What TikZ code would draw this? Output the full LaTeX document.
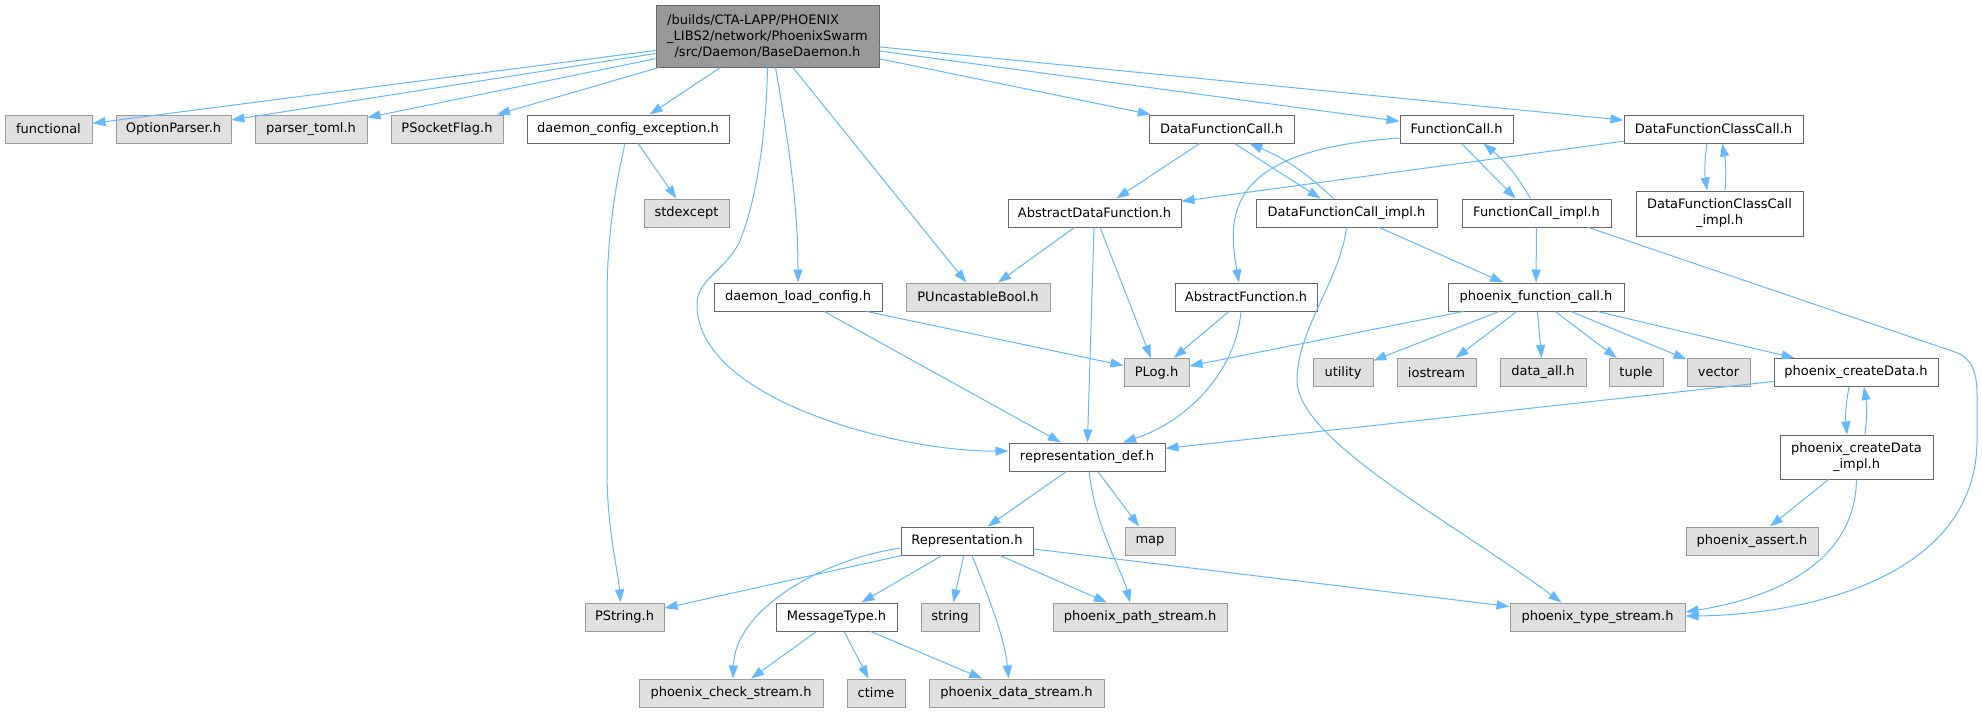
\documentclass[tikz,border=0pt]{standalone}
\usepackage{fontspec}
\setmainfont{DejaVu Sans}
\usepackage{calc}
\usetikzlibrary{arrows.meta}
\definecolor{edgeblue}{HTML}{63B8FF}
\definecolor{extfill}{HTML}{E0E0E0}
\definecolor{extline}{HTML}{999999}
\definecolor{docline}{HTML}{666666}
\definecolor{rootfill}{HTML}{999999}

\begin{document}
\begin{tikzpicture}[x=1pt, y=-1pt, font=\fontsize{13}{16}\selectfont,
    box/.style={draw=docline, fill=white, line width=1pt, inner sep=0pt, minimum height=28pt, align=center},
    ext/.style={box, draw=extline, fill=extfill},
    root/.style={box, fill=rootfill},
    dep/.style={draw=edgeblue, line width=1pt, -{Triangle[length=13pt,width=9pt]}}]
\useasboundingbox (0,0) rectangle (1982,712);
% root file
\node[root, minimum width=223pt, minimum height=62pt] (root) at (767.5,36) {\makebox[\widthof{\_LIBS2/network/PhoenixSwarm}][l]{/builds/CTA-LAPP/PHOENIX}\\\_LIBS2/network/PhoenixSwarm\\/src/Daemon/BaseDaemon.h};
% first row
\node[ext, minimum width=87pt] (functional) at (48.5,129) {functional};
\node[ext, minimum width=115pt] (optparser) at (173.5,129) {OptionParser.h};
\node[ext, minimum width=112pt] (parsertoml) at (311,129) {parser\_toml.h};
\node[ext, minimum width=112pt] (psocketflag) at (447,129) {PSocketFlag.h};
\node[box, minimum width=202pt] (cfgexcept) at (628,129) {daemon\_config\_exception.h};
\node[box, minimum width=145pt] (dfcall) at (1221.5,129) {DataFunctionCall.h};
\node[box, minimum width=113pt] (fcall) at (1456.5,129) {FunctionCall.h};
\node[box, minimum width=179pt] (dfclasscall) at (1713.5,129) {DataFunctionClassCall.h};
% second row
\node[ext, minimum width=85pt] (stdexcept) at (686.5,213) {stdexcept};
\node[box, minimum width=173pt] (absdatafn) at (1094.5,213) {AbstractDataFunction.h};
\node[box, minimum width=181pt] (dfcallimpl) at (1346.5,213) {DataFunctionCall\_impl.h};
\node[box, minimum width=149pt] (fcallimpl) at (1536.5,213) {FunctionCall\_impl.h};
\node[box, minimum width=167pt, minimum height=45pt] (dfclassimpl) at (1719.5,213.5) {DataFunctionClassCall\\\_impl.h};
% third row
\node[box, minimum width=168pt] (loadcfg) at (798,297) {daemon\_load\_config.h};
\node[ext, minimum width=144pt] (puncast) at (978,297) {PUncastableBool.h};
\node[box, minimum width=142pt] (absfn) at (1246,297) {AbstractFunction.h};
\node[box, minimum width=176pt] (pfncall) at (1536,297) {phoenix\_function\_call.h};
% fourth row
\node[ext, minimum width=65pt] (plog) at (1156.5,372.5) {PLog.h};
\node[ext, minimum width=60pt] (utility) at (1343,372.5) {utility};
\node[ext, minimum width=79pt] (iostream) at (1436.5,372.5) {iostream};
\node[ext, minimum width=86pt] (dataall) at (1543,372.5) {data\_all.h};
\node[ext, minimum width=54pt] (tuple) at (1636,372.5) {tuple};
\node[ext, minimum width=63pt] (vector) at (1718.5,372.5) {vector};
\node[box, minimum width=164pt] (createdata) at (1856,372.5) {phoenix\_createData.h};
% representation part
\node[box, minimum width=153pt, minimum height=44pt] (createimpl) at (1856.5,457) {phoenix\_createData\\\_impl.h};
\node[box, minimum width=156pt] (repdef) at (1087,457) {representation\_def.h};
\node[box, minimum width=132pt] (repr) at (967,541) {Representation.h};
\node[ext, minimum width=50pt] (map) at (1150,541) {map};
\node[ext, minimum width=132pt] (passert) at (1752,541) {phoenix\_assert.h};
\node[ext, minimum width=79pt] (pstring) at (624.5,617) {PString.h};
\node[box, minimum width=121pt] (msgtype) at (836.5,617) {MessageType.h};
\node[ext, minimum width=58pt] (string) at (950,617) {string};
\node[ext, minimum width=174pt] (pathstream) at (1140,617) {phoenix\_path\_stream.h};
\node[ext, minimum width=175pt] (typestream) at (1597.5,617) {phoenix\_type\_stream.h};
% bottom row
\node[ext, minimum width=184pt] (checkstream) at (731,693) {phoenix\_check\_stream.h};
\node[ext, minimum width=58pt] (ctime) at (876,693) {ctime};
\node[ext, minimum width=175pt] (datastream) at (1016.5,693) {phoenix\_data\_stream.h};

% edges from the root
\draw[dep] (root) -- (functional);
\draw[dep] (root) -- (optparser);
\draw[dep] (root) -- (parsertoml);
\draw[dep] (root) -- (psocketflag);
\draw[dep] (root) -- (cfgexcept);
\draw[dep] (root.south) .. controls (766,150) and (752,215) .. (738,245) .. controls (720,275) and (697,280) .. (697,305) .. controls (697,400) and (900,452) .. ([yshift=6pt]repdef.west);
\draw[dep] ([xshift=8pt]root.south) .. controls (790,150) and (798,210) .. (loadcfg.north);
\draw[dep] (root) -- (puncast);
\draw[dep] (root) -- (dfcall);
\draw[dep] (root) -- (fcall);
\draw[dep] (root) -- (dfclasscall);
% daemon_config_exception.h
\draw[dep] (cfgexcept) -- (stdexcept);
\draw[dep] ([xshift=-3pt]cfgexcept.south) .. controls (612,200) and (607,250) .. (607,300) -- (607,470) .. controls (607,530) and (618,570) .. ([xshift=-4pt]pstring.north);
% call headers
\draw[dep] (dfcall) -- (absdatafn);
\draw[dep] ([xshift=13pt]dfcall.south) -- ([xshift=-26pt]dfcallimpl.north);
\draw[dep] ([xshift=-13pt]dfcallimpl.north) to[bend right=10] ([xshift=28pt]dfcall.south);
\draw[dep] ([yshift=-9pt]fcall.west) .. controls (1230,150) and (1226,210) .. ([xshift=-7pt]absfn.north);
\draw[dep] ([xshift=5pt]fcall.south) -- ([xshift=-21pt]fcallimpl.north);
\draw[dep] ([xshift=-6pt]fcallimpl.north) to[bend right=10] ([xshift=27pt]fcall.south);
\draw[dep] (dfclasscall) -- (absdatafn);
\draw[dep] ([xshift=-6.5pt]dfclasscall.south) to[bend right=8] ([xshift=-12.5pt]dfclassimpl.north);
\draw[dep] ([xshift=5.5pt]dfclassimpl.north) to[bend right=8] ([xshift=8.5pt]dfclasscall.south);
% second row
\draw[dep] (absdatafn) -- (puncast);
\draw[dep] (absdatafn) -- (plog);
\draw[dep] (absdatafn) -- (repdef);
\draw[dep] (dfcallimpl) -- (pfncall);
\draw[dep] (dfcallimpl.south) .. controls (1340,280) and (1297,330) .. (1297,380) .. controls (1297,440) and (1450,520) .. ([xshift=-36pt]typestream.north);
\draw[dep] (fcallimpl) -- (pfncall);
\draw[dep] ([xshift=52pt]fcallimpl.south) -- (1955,352) .. controls (1972,358) and (1977,372) .. (1977,395) -- (1977,440) .. controls (1977,580) and (1800,615) .. ([yshift=1pt]typestream.east);
% third row
\draw[dep] (loadcfg) -- (plog);
\draw[dep] (loadcfg) -- (repdef);
\draw[dep] (absfn) -- (plog);
\draw[dep] ([xshift=-5pt]absfn.south) .. controls (1236,370) and (1190,420) .. ([xshift=36pt]repdef.north);
\draw[dep] (pfncall) -- (plog);
\draw[dep] (pfncall) -- (utility);
\draw[dep] (pfncall) -- (iostream);
\draw[dep] (pfncall) -- (dataall);
\draw[dep] (pfncall) -- (tuple);
\draw[dep] (pfncall) -- (vector);
\draw[dep] (pfncall) -- (createdata);
% phoenix_createData.h
\draw[dep] (createdata) -- (repdef);
\draw[dep] ([xshift=-7pt]createdata.south) to[bend right=8] ([xshift=-9.5pt]createimpl.north);
\draw[dep] ([xshift=8.5pt]createimpl.north) to[bend right=8] ([xshift=8pt]createdata.south);
\draw[dep] (createimpl) -- (passert);
\draw[dep] (createimpl.south) .. controls (1855,570) and (1760,600) .. ([yshift=5pt]typestream.east);
% representation_def.h
\draw[dep] (repdef) -- (repr);
\draw[dep] (repdef) -- (map);
\draw[dep] ([xshift=2pt]repdef.south) .. controls (1096,530) and (1122,570) .. ([xshift=-10pt]pathstream.north);
% Representation.h
\draw[dep] (repr) -- (pstring);
\draw[dep] ([yshift=-7pt]repr.west) .. controls (820,560) and (735,610) .. ([xshift=2pt]checkstream.north);
\draw[dep] (repr) -- (msgtype);
\draw[dep] (repr) -- (string);
\draw[dep] ([xshift=5pt]repr.south) .. controls (990,600) and (1005,640) .. ([xshift=-8pt]datastream.north);
\draw[dep] (repr) -- (pathstream);
\draw[dep] (repr) -- (typestream);
% MessageType.h
\draw[dep] (msgtype) -- (checkstream);
\draw[dep] (msgtype) -- (ctime);
\draw[dep] (msgtype) -- (datastream);
\end{tikzpicture}
\end{document}
